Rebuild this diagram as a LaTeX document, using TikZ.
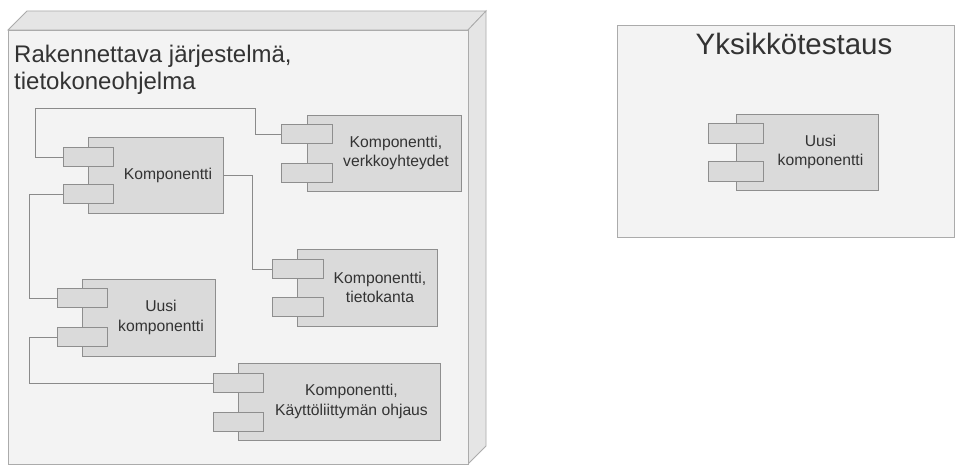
\documentclass[tikz,border=0pt]{standalone}
\usepackage{fontspec}
\setmainfont{Liberation Sans}
\usetikzlibrary{calc}
\definecolor{facecol}{HTML}{F3F3F3}
\definecolor{sidecol}{HTML}{E5E5E5}
\definecolor{edgecol}{HTML}{ABABAB}
\definecolor{compfill}{HTML}{DADADA}
\definecolor{compedge}{HTML}{8E8E8E}
\definecolor{linecol}{HTML}{8A8A8A}
\definecolor{textcol}{HTML}{333333}
\begin{document}
\begin{tikzpicture}[x=1pt,y=-1pt,
  comp/.style={draw=compedge, fill=compfill, line width=0.8pt, inner sep=0pt, anchor=north west},
  port/.style={comp, minimum width=50pt, minimum height=19pt},
  ctext/.style={align=center, font=\fontsize{15.7}{19.5}\selectfont, text=textcol, inner sep=0pt},
  titletext/.style={font=\fontsize{24}{27}\selectfont, text=textcol, inner sep=0pt, anchor=base west},
  conn/.style={draw=linecol, line width=0.7pt},
  box/.style={draw=edgecol, line width=0.8pt}]
\useasboundingbox[fill=white] (0,0) rectangle (956,465);

% 3D container (left)
\filldraw[box, fill=sidecol] (8,30) -- (27,11) -- (486,11) -- (468,30) -- cycle;
\filldraw[box, fill=sidecol] (468,30) -- (486,11) -- (486,446) -- (468,464) -- cycle;
\filldraw[box, fill=facecol] (8,30) rectangle (468,464);
\node[titletext] (t1) at (14,63) {Rakennettava järjestelmä,};
\node[titletext] (t2) at (14,90) {tietokoneohjelma};

% right container
\filldraw[box, fill=facecol] (617,25) rectangle (954,237);
\node[font=\fontsize{29.5}{32}\selectfont, text=textcol, inner sep=0pt, anchor=base] (t3) at (794,55) {Yksikkötestaus};

% Komponentti
\node[comp, minimum width=135pt, minimum height=76pt] (k1) at (88,137) {};
\node[port] (k1a) at (63,147) {};
\node[port] (k1b) at (63,184) {};
\node[ctext] (k1t) at (168,175) {Komponentti};

% Komponentti, verkkoyhteydet
\node[comp, minimum width=154pt, minimum height=76pt] (k2) at (307,115) {};
\node[port, minimum width=51pt] (k2a) at (281,124) {};
\node[port, minimum width=51pt] (k2b) at (281,163) {};
\node[ctext] (k2t) at (396,153) {Komponentti,\\verkkoyhteydet};

% Komponentti, tietokanta
\node[comp, minimum width=140pt, minimum height=77pt] (k3) at (297,249) {};
\node[port, minimum width=51pt] (k3a) at (272,259) {};
\node[port, minimum width=51pt] (k3b) at (272,297) {};
\node[ctext] (k3t) at (380,287.5) {Komponentti,\\tietokanta};

% Uusi komponentti (left)
\node[comp, minimum width=133pt, minimum height=77pt] (k4) at (82,279) {};
\node[port] (k4a) at (57,288) {};
\node[port] (k4b) at (57,327) {};
\node[ctext] (k4t) at (161,317.5) {Uusi\\komponentti};

% Komponentti, Kayttoliittyman ohjaus
\node[comp, minimum width=202pt, minimum height=77pt] (k5) at (238,363) {};
\node[port] (k5a) at (213,373) {};
\node[port] (k5b) at (213,412) {};
\node[ctext] (k5t) at (351.5,401.5) {Komponentti,\\Käyttöliittymän ohjaus};

% Uusi komponentti (right)
\node[comp, minimum width=142pt, minimum height=76pt] (k6) at (736,114) {};
\node[port, minimum width=55pt, minimum height=20pt] (k6a) at (708,123) {};
\node[port, minimum width=55pt, minimum height=20pt] (k6b) at (708,161) {};
\node[ctext] (k6t) at (820.5,152) {Uusi\\komponentti};

% connectors
\draw[conn] (k1a.west) -- ++(-28,0) |- (255,108) |- (k2a.west);
\draw[conn] (k1.east) -- ++(29,0) |- (k3a.west);
\draw[conn] (k1b.west) -- ++(-34,0) |- (k4a.west);
\draw[conn] (k4b.west) -- ++(-28,0) |- (k5a.west);
\end{tikzpicture}
\end{document}
